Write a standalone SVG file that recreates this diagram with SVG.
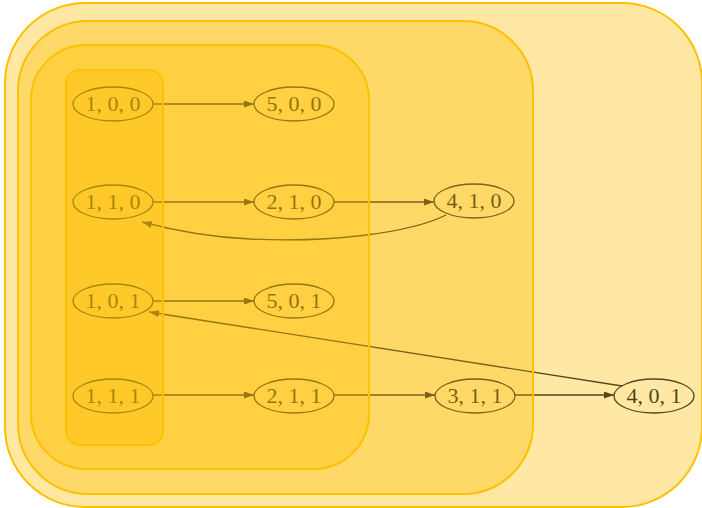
<svg xmlns="http://www.w3.org/2000/svg" width="702" height="508" viewBox="0 0 702 508">
  <style>
    .node ellipse { fill: none; stroke: #262626; stroke-width: 1.3; }
    .node text { font-family: "Liberation Serif", "Times New Roman", serif; font-size: 22px; fill: #1e1e1e; text-anchor: middle; }
    .edge { fill: none; stroke: #262626; stroke-width: 1.3; marker-end: url(#arrow); }
    /* cluster tint is split into a wash below the graph and a veil above it */
    .under { fill: #FFC000; fill-opacity: 0.18; stroke: none; }
    .over { fill: #FFC000; fill-opacity: 0.22; stroke: #FFC000; stroke-width: 2; }
  </style>
  <defs>
    <marker id="arrow" markerWidth="11" markerHeight="8" refX="10" refY="3.5" orient="auto" markerUnits="userSpaceOnUse">
      <path d="M0,0 L10,3.5 L0,7 z" fill="#262626"/>
    </marker>
    <rect id="shape_outer" x="5" y="3" width="697" height="504" rx="80" ry="80"/>
    <rect id="shape_mid" x="18" y="21" width="515" height="473" rx="70" ry="70"/>
    <rect id="shape_inner" x="31" y="45" width="338" height="424" rx="55" ry="55"/>
    <rect id="shape_core" x="66" y="70" width="97" height="375" rx="14" ry="14"/>
  </defs>
  <rect width="702" height="508" fill="#ffffff"/>

  <g id="cluster_wash">
    <use href="#shape_outer" class="under"/>
    <use href="#shape_mid" class="under"/>
    <use href="#shape_inner" class="under"/>
    <use href="#shape_core" class="under"/>
  </g>

  <!-- connectors -->
  <g id="edges">
    <path class="edge" d="M153,104 L254,104"/>
    <path class="edge" d="M153,202 L254,202"/>
    <path class="edge" d="M334,202 L434,202"/>
    <path class="edge" d="M446,215 C410,233 330,243 250,239 C205,237 172,230 142,222"/>
    <path class="edge" d="M153,301 L254,301"/>
    <path class="edge" d="M622,386 L149,312"/>
    <path class="edge" d="M153,395 L254,395"/>
    <path class="edge" d="M334,395 L435,395"/>
    <path class="edge" d="M515,395 L614,395"/>
  </g>

  <!-- nodes -->
  <g id="n100" class="node"><ellipse cx="113" cy="104" rx="40" ry="17"/><text x="113" y="111">1, 0, 0</text></g>
  <g id="n500" class="node"><ellipse cx="294" cy="104" rx="40" ry="17"/><text x="294" y="111">5, 0, 0</text></g>
  <g id="n110" class="node"><ellipse cx="113" cy="202" rx="40" ry="17"/><text x="113" y="209">1, 1, 0</text></g>
  <g id="n210" class="node"><ellipse cx="294" cy="202" rx="40" ry="17"/><text x="294" y="209">2, 1, 0</text></g>
  <g id="n410" class="node"><ellipse cx="474" cy="201" rx="40" ry="17"/><text x="474" y="208">4, 1, 0</text></g>
  <g id="n101" class="node"><ellipse cx="113" cy="301" rx="40" ry="17"/><text x="113" y="308">1, 0, 1</text></g>
  <g id="n501" class="node"><ellipse cx="294" cy="301" rx="40" ry="17"/><text x="294" y="308">5, 0, 1</text></g>
  <g id="n111" class="node"><ellipse cx="113" cy="396" rx="40" ry="17"/><text x="113" y="403">1, 1, 1</text></g>
  <g id="n211" class="node"><ellipse cx="294" cy="396" rx="40" ry="17"/><text x="294" y="403">2, 1, 1</text></g>
  <g id="n311" class="node"><ellipse cx="475" cy="396" rx="40" ry="17"/><text x="475" y="403">3, 1, 1</text></g>
  <g id="n401" class="node"><ellipse cx="654" cy="396" rx="40" ry="17"/><text x="654" y="403">4, 0, 1</text></g>

  <!-- nested clusters: translucent veil and outline over the graph -->
  <g id="clusters">
    <use id="cluster_outer" href="#shape_outer" class="over"/>
    <use id="cluster_mid" href="#shape_mid" class="over"/>
    <use id="cluster_inner" href="#shape_inner" class="over"/>
    <use id="cluster_core" href="#shape_core" class="over"/>
  </g>
</svg>
